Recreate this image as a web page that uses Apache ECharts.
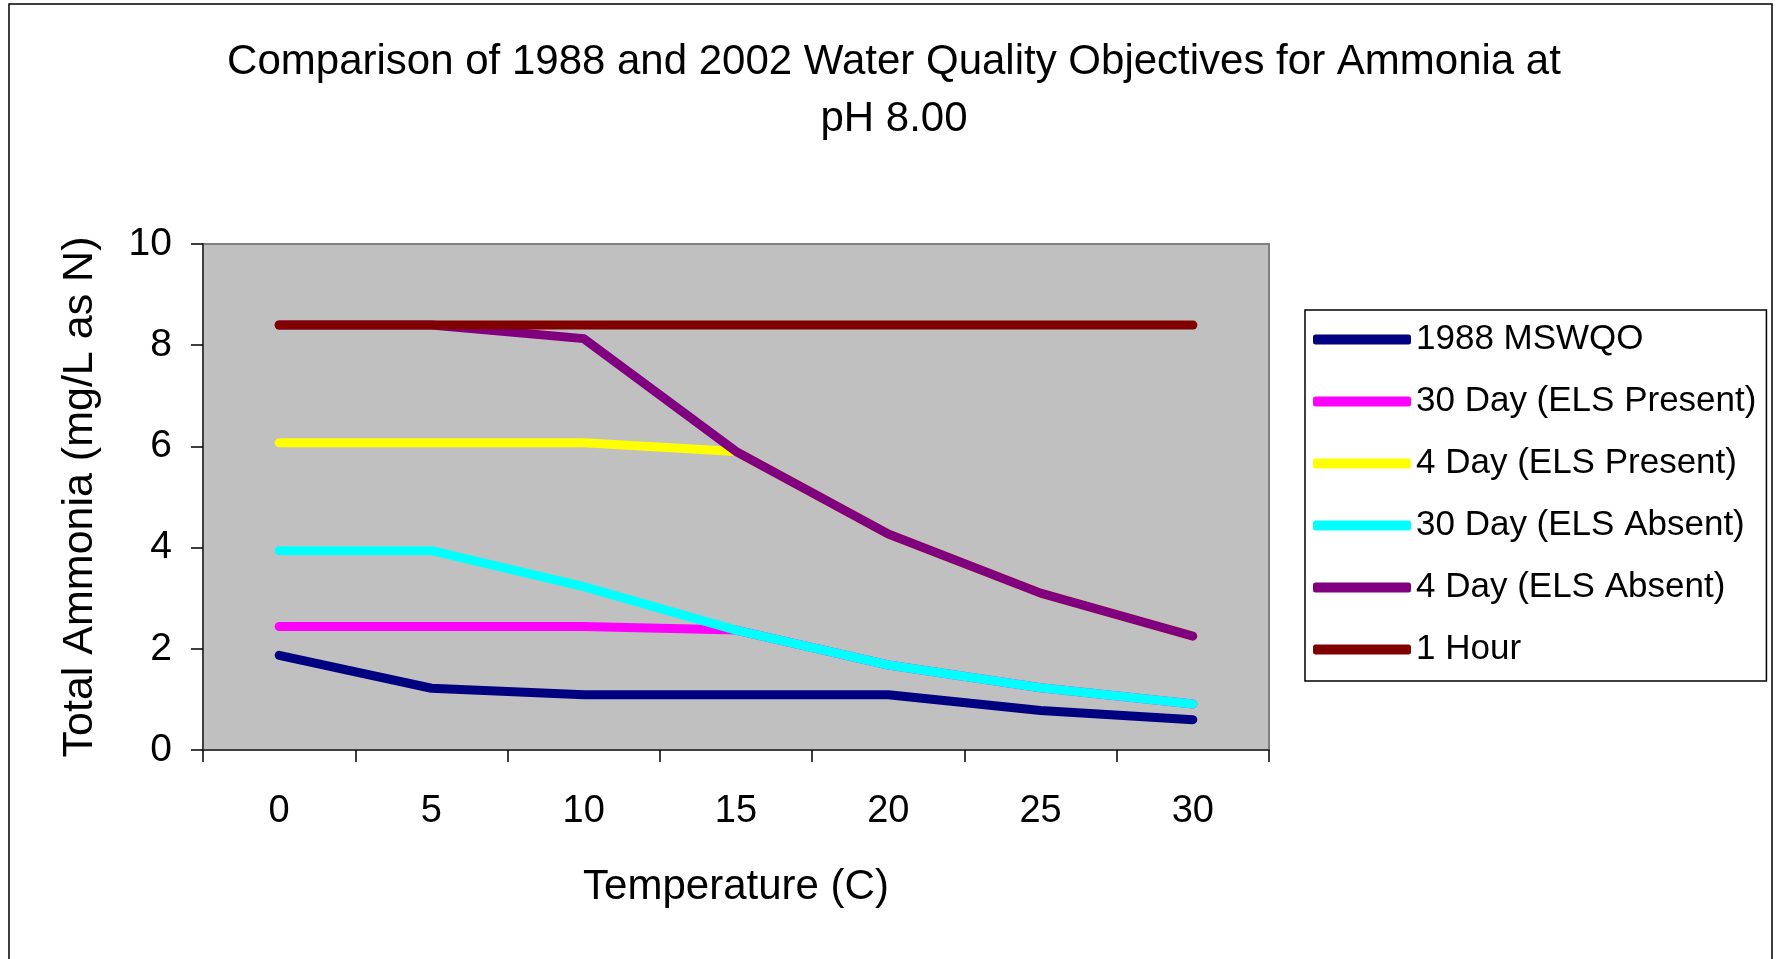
<!DOCTYPE html>
<html>
<head>
<meta charset="utf-8">
<script src="https://cdn.jsdelivr.net/npm/echarts@6/dist/echarts.min.js"></script>
<style>
html,body{margin:0;padding:0;background:#fff;}
#chart{width:1778px;height:959px;}
</style>
</head>
<body>
<div id="chart"></div>
<script>
var temperatures = ['0', '5', '10', '15', '20', '25', '30'];
var mswqo1988 = [1.87, 1.22, 1.09, 1.09, 1.09, 0.78, 0.60];
var day30Present = [2.44, 2.44, 2.44, 2.37, 1.68, 1.23, 0.91];
var day4Present = [6.07, 6.07, 6.07, 5.90, 4.27, 3.10, 2.25];
var day30Absent = [3.94, 3.94, 3.23, 2.37, 1.68, 1.23, 0.91];
var day4Absent = [8.40, 8.40, 8.13, 5.90, 4.27, 3.10, 2.25];
var hour1 = [8.40, 8.40, 8.40, 8.40, 8.40, 8.40, 8.40];
var yTicks = [0, 2, 4, 6, 8, 10];

var seriesNames = ['1988 MSWQO', '30 Day (ELS Present)', '4 Day (ELS Present)', '30 Day (ELS Absent)', '4 Day (ELS Absent)', '1 Hour'];
var seriesData = [mswqo1988, day30Present, day4Present, day30Absent, day4Absent, hour1];
var seriesColors = ['#000080', '#FF00FF', '#FFFF00', '#00FFFF', '#800080', '#800000'];

var FONT = '"Liberation Sans", Arial, sans-serif';
var chart = echarts.init(document.getElementById('chart'), null, {renderer: 'canvas'});

var series = seriesNames.map(function (n, i) {
  return {
    name: n,
    type: 'line',
    data: seriesData[i],
    symbol: 'none',
    showSymbol: false,
    color: seriesColors[i],
    lineStyle: {color: seriesColors[i], width: 9, cap: 'round', join: 'round'},
    itemStyle: {color: seriesColors[i]},
    z: 2 + i
  };
});

chart.setOption({
  animation: false,
  backgroundColor: '#fff',
  graphic: [{
    type: 'rect',
    shape: {x: 9, y: 4, width: 1763, height: 1000},
    style: {fill: 'none', stroke: '#000', lineWidth: 1.5},
    silent: true,
    z: -10
  }],
  title: {
    text: 'Comparison of 1988 and 2002 Water Quality Objectives for Ammonia at\npH 8.00',
    left: 889,
    top: 29,
    textAlign: 'center',
    textStyle: {fontFamily: FONT, fontSize: 42, fontWeight: 'normal', color: '#000', lineHeight: 57}
  },
  legend: {
    orient: 'vertical',
    left: 1305,
    top: 310,
    padding: [12, 10, 14, 8],
    itemGap: 27,
    itemWidth: 98,
    itemHeight: 10,
    icon: 'roundRect',
    itemTextGap: 6,
    borderColor: '#000',
    borderWidth: 1.5,
    backgroundColor: '#fff',
    data: seriesNames,
    textStyle: {fontFamily: FONT, fontSize: 35, lineHeight: 35, color: '#000'}
  },
  grid: {
    left: 203, top: 244, width: 1066, height: 506,
    show: true,
    backgroundColor: '#C0C0C0',
    borderColor: '#808080',
    borderWidth: 2,
    containLabel: false
  },
  xAxis: {
    type: 'category',
    data: temperatures,
    boundaryGap: true,
    name: 'Temperature (C)',
    nameLocation: 'middle',
    nameGap: 116,
    nameTextStyle: {fontFamily: FONT, fontSize: 42, color: '#000'},
    axisLine: {show: true, lineStyle: {color: '#404040', width: 2}},
    axisTick: {show: true, alignWithLabel: false, length: 12, inside: false, lineStyle: {color: '#000', width: 1.5}},
    axisLabel: {fontFamily: FONT, fontSize: 38, color: '#000', margin: 43, interval: 0},
    splitLine: {show: false}
  },
  yAxis: {
    type: 'value',
    min: 0,
    max: 10,
    interval: 2,
    name: 'Total Ammonia (mg/L as N)',
    nameLocation: 'middle',
    nameGap: 101,
    nameRotate: 90,
    nameTextStyle: {fontFamily: FONT, fontSize: 43, color: '#000'},
    axisLine: {show: true, lineStyle: {color: '#404040', width: 2}},
    axisTick: {show: true, length: 12, inside: false, lineStyle: {color: '#000', width: 1.5}},
    axisLabel: {fontFamily: FONT, fontSize: 39, color: '#000', margin: 31,
      formatter: function (v) { return yTicks.indexOf(v) >= 0 ? String(v) : ''; }},
    splitLine: {show: false}
  },
  series: series
});
</script>
</body>
</html>
